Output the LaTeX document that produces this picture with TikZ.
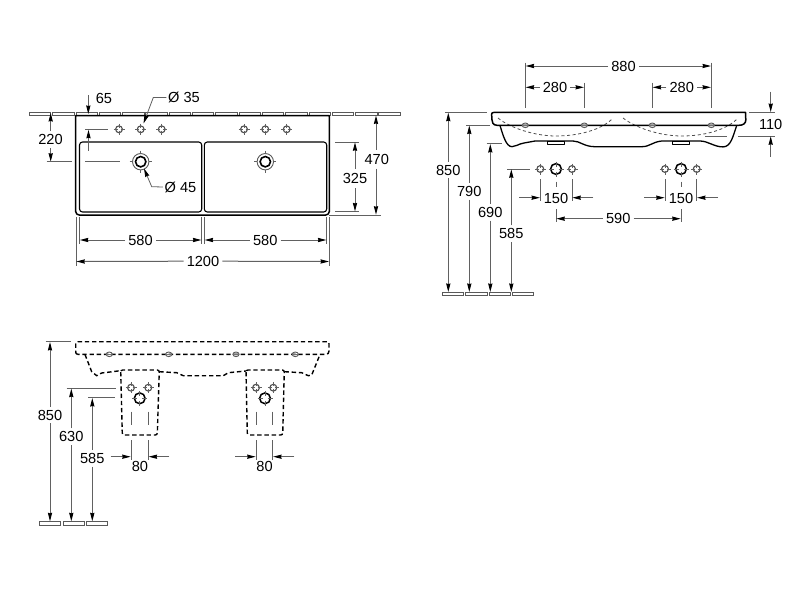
\documentclass[tikz,border=0pt]{standalone}
\usepackage{fontspec}
\setmainfont{Liberation Sans}
\usetikzlibrary{arrows.meta}
\tikzset{
  x=1pt,y=-1pt,
  lbl/.style={font=\fontsize{14.6}{16}\selectfont,text=black,inner sep=0pt},
  part/.style={draw=black,line width=1.5pt,line join=round},
  thinpart/.style={draw=black!70,line width=0.8pt},
  ext/.style={draw=black!62,line width=1pt},
  dimline/.style={draw=black!62,line width=1pt,-{Stealth[length=8.5pt,width=4.2pt,inset=0.6pt,color=black]}},
  hidden/.style={draw=black,line width=1.4pt,dash pattern=on 4.4pt off 2.8pt},
  hidden thin/.style={draw=black!70,line width=0.8pt,dash pattern=on 3pt off 2.6pt},
  plate/.style={draw=black!65,line width=0.9pt,fill=white},
  smallhole/.pic={
    \draw[thinpart,line width=1.1pt] (0,0) circle (3.4);
    \draw[ext,line width=0.6pt] (-5.5,0)--(-1.5,0) (1.5,0)--(5.5,0) (0,-5.5)--(0,-1.5) (0,1.5)--(0,5.5);
  },
  bighole/.pic={
    \draw[black!65,line width=0.9pt] (0,0) circle (8.2);
    \draw[black,line width=1.6pt] (0,0) circle (5.2);
    \draw[ext,line width=0.7pt] (-11,0)--(-8.2,0) (8.2,0)--(11,0) (0,-11)--(0,-8.2) (0,8.2)--(0,11);
  },
  sidehole/.pic={
    \draw[black,line width=1.5pt] (0,0) circle (5.4);
    \draw[ext,line width=0.6pt] (-7.5,0)--(-2.5,0) (2.5,0)--(7.5,0) (0,-7.5)--(0,-2.5) (0,2.5)--(0,7.5);
  },
  rimhole/.pic={
    \draw[black!65,line width=0.9pt] (0,0) ellipse (3.1 and 2.3);
    \draw[black!55,line width=0.5pt] (-3.1,0)--(3.1,0);
  },
}
\begin{document}
\begin{tikzpicture}
\useasboundingbox (0,0) rectangle (800,600);
% ===== plan view =====
\foreach \k in {0,...,15}
  \draw[plate,line width=0.7pt] ({29.3+23.3*\k},112.8) rectangle ++(21.4,2.4);
\draw[part,fill=white] (78.5,115.7) -- (329.3,115.7) -- (329.3,211.5) arc[start angle=0,end angle=90,radius=3.5] -- (79.2,215) arc[start angle=90,end angle=180,radius=3.5] -- (75.7,115.7) -- cycle;
\draw[part,line width=1.1pt,rounded corners=3pt] (79.5,142) rectangle (201.7,212);
\draw[part,line width=1.1pt,rounded corners=3pt] (204.3,142) rectangle (326.7,212);
\foreach \x in {119,140.7,161.7,244,265.3,286.7} \pic at (\x,129.3) {smallhole};
\pic at (140.7,161.7) {bighole};
\pic at (265.3,161.7) {bighole};
% 65
\draw[dimline] (88.3,95) -- (88.3,114);
\node[lbl] (t65) at (104,98) {65};
\draw[ext] (85,129.3) -- (108,129.3);
\draw[dimline] (88.5,150.5) -- (88.5,129.8);
% 220
\draw[dimline] (50.7,131) -- (50.7,113);
\draw[dimline] (50.7,148) -- (50.7,161.7);
\node[lbl] (t220) at (50.5,139.7) {220};
\draw[ext] (46.7,161.7) -- (71.7,161.7) (85,161.7) -- (120,161.7);
% diameters
\node[lbl] (d35) at (184,97.5) {Ø 35};
\node[lbl] (d45) at (180.5,187) {Ø 45};
\draw[dimline,line width=0.8pt] (d35.west) ++(-1.5,0) -- (153.3,97.5) -- (143.5,123.5);
\draw[dimline,line width=0.8pt] (d45.west) ++(-1.5,0) -- (151.7,186.7) -- (144,168.5);
% extension lines below plan
\draw[ext] (76,217) -- (76,265.5) (329.3,217) -- (329.3,265.5);
\draw[ext] (79.5,217) -- (79.5,244) (201.7,217) -- (201.7,244) (204.3,217) -- (204.3,244) (326.7,217) -- (326.7,244);
% 580 580 1200
\node[lbl] (a580) at (140.5,240) {580};
\node[lbl] (b580) at (265.3,240) {580};
\node[lbl] (t1200) at (203,261.2) {1200};
\draw[dimline] (a580.west) ++(-3,0) -- (79.8,240);
\draw[dimline] (a580.east) ++(3,0) -- (201.4,240);
\draw[dimline] (b580.west) ++(-3,0) -- (204.6,240);
\draw[dimline] (b580.east) ++(3,0) -- (326.4,240);
\draw[dimline] (t1200.west) ++(-3,0) -- (76.3,261.5);
\draw[dimline] (t1200.east) ++(3,0) -- (329,261.5);
% 325 470
\draw[ext] (335,142) -- (359.3,142) (335,211.7) -- (359.3,211.7);
\node[lbl] (t325) at (355,178.7) {325};
\draw[dimline] (355,169) -- (355,142.3);
\draw[dimline] (355,188) -- (355,211.4);
\draw[ext] (329.3,215) -- (380.5,215);
\node[lbl] (t470) at (376.7,159) {470};
\draw[dimline] (376,149.5) -- (376,115.5);
\draw[dimline] (376,168.5) -- (376,214.7);
% ===== front view =====
\draw[hidden thin] (498,118) .. controls (510,128) and (535,136) .. (556,136) .. controls (578,136) and (602,130) .. (613,118);
\draw[hidden thin] (623,118) .. controls (636,128) and (660,136) .. (682,136) .. controls (704,136) and (727,130) .. (738,118);
\draw[part] (494,112.4) -- (745.5,112.4) -- (745.8,120) .. controls (745.8,123.5) and (743,125.3) .. (739,125.3) -- (497,125.3) .. controls (493,125.3) and (491.8,122) .. (491.8,119) -- (491.7,114) .. controls (491.7,113) and (492.5,112.4) .. (494,112.4) -- cycle;
\draw[part,line width=1.3pt] (500,125.5) .. controls (503,135) and (506,146.7) .. (512,146.7) .. controls (516,146.7) and (518,144) .. (524,143) -- (535,141) -- (573,141) .. controls (580,141) and (584,146.7) .. (595,146.7) -- (641.7,146.7) .. controls (650,146.7) and (652,142) .. (661.7,141) -- (700,141) .. controls (708,141) and (714,146.9) .. (723,146.9) .. controls (731,146.9) and (733,136) .. (736.7,125.5);
\draw[part,line width=0.9pt] (547.5,141) rectangle (564,144);
\draw[part,line width=0.9pt] (672.5,141) rectangle (689,144);
\foreach \x in {525.3,584.3,652.3,711.3} \pic at (\x,125.3) {rimhole};
% 880, 280
\draw[ext] (525.3,62.7) -- (525.3,107.5) (711.3,62.7) -- (711.3,107.5) (584.3,82.7) -- (584.3,107.5) (652.3,82.7) -- (652.3,107.5);
\node[lbl] (t880) at (623.5,66) {880};
\draw[dimline] (t880.west) ++(-3,0) -- (525.6,66);
\draw[dimline] (t880.east) ++(3,0) -- (711,66);
\node[lbl] (l280) at (555,87.3) {280};
\node[lbl] (r280) at (681.7,87.3) {280};
\draw[dimline] (l280.west) ++(-3,0) -- (525.6,87.3);
\draw[dimline] (l280.east) ++(3,0) -- (584,87.3);
\draw[dimline] (r280.west) ++(-3,0) -- (652.6,87.3);
\draw[dimline] (r280.east) ++(3,0) -- (711,87.3);
% 110
\draw[ext] (749.3,112.3) -- (775,112.3) (738,136) -- (775,136) (705,136) -- (727,136);
\node[lbl] (t110) at (770.7,124.7) {110};
\draw[dimline] (770.7,91.7) -- (770.7,112);
\draw[dimline] (770.7,156.7) -- (770.7,136.3);
% heights
\draw[ext] (445,112.5) -- (487,112.5) (466,125.3) -- (490,125.3) (486.7,143.7) -- (501.7,143.7) (507.3,169) -- (530,169);
\node[lbl] (h850) at (448.3,170) {850};
\node[lbl] (h790) at (469.3,191.3) {790};
\node[lbl] (h690) at (490.3,212.3) {690};
\node[lbl] (h585) at (511.3,233.7) {585};
\draw[dimline] (h850.north -| 448.3,0) ++(0,-3) -- (448.3,112.7);
\draw[dimline] (h850.south -| 448.3,0) ++(0,3) -- (448.3,292);
\draw[dimline] (h790.north -| 469.3,0) ++(0,-3) -- (469.3,125.5);
\draw[dimline] (h790.south -| 469.3,0) ++(0,3) -- (469.3,292);
\draw[dimline] (h690.north -| 490.3,0) ++(0,-3) -- (490.3,144);
\draw[dimline] (h690.south -| 490.3,0) ++(0,3) -- (490.3,292);
\draw[dimline] (h585.north -| 511.3,0) ++(0,-3) -- (511.3,169.3);
\draw[dimline] (h585.south -| 511.3,0) ++(0,3) -- (511.3,292);
\draw[plate] (442.3,292.3) rectangle (463.7,295.7);
\draw[plate] (465.7,292.3) rectangle (487,295.7);
\draw[plate] (489,292.3) rectangle (510.7,295.7);
\draw[plate] (512.3,292.3) rectangle (533.7,295.7);
% tap holes
\foreach \x in {540.3,572,665,696.7} \pic at (\x,169) {smallhole};
\pic at (556,169) {sidehole};
\pic at (681,169) {sidehole};
\draw[ext] (540.3,179.3) -- (540.3,201) (572,179.3) -- (572,201) (665,179.3) -- (665,201) (696.7,179.3) -- (696.7,201);
\draw[ext] (556,181.7) -- (556,187) (681,181.7) -- (681,187);
\node[lbl] (a150) at (556,198) {150};
\node[lbl] (b150) at (681,198) {150};
\draw[dimline] (519.3,197.7) -- (540,197.7);
\draw[dimline] (593.3,197.7) -- (572.3,197.7);
\draw[dimline] (644,197.7) -- (664.7,197.7);
\draw[dimline] (718,197.7) -- (697,197.7);
\draw[ext] (556,209.3) -- (556,222.3) (681,209.3) -- (681,222.3);
\node[lbl] (t590) at (618.3,218.7) {590};
\draw[dimline] (t590.west) ++(-3,0) -- (556.3,218.7);
\draw[dimline] (t590.east) ++(3,0) -- (680.7,218.7);
% ===== side (hidden) view =====
\draw[hidden] (77.5,354.3) .. controls (76,354.3) and (75.7,353) .. (75.7,351) -- (75.7,344) .. controls (75.7,342.5) and (76.5,341.7) .. (78,341.7) -- (327,341.7) .. controls (328.5,341.7) and (329,342.5) .. (329,344) -- (329,351) .. controls (329,353) and (328,354.3) .. (326,354.3) -- cycle;
\draw[hidden] (85,354.5) -- (91.7,371.7) -- (96.7,375.7) -- (101.7,373) -- (120.5,370.7);
\draw[hidden] (159.3,371.7) -- (176.7,372.7) -- (183.3,375.7) -- (223.3,375.7) -- (228.3,372.7) -- (245.8,371);
\draw[hidden] (284.5,371.7) -- (301.7,372.7) -- (308.3,375.7) -- (311.7,375) -- (320,354.5);
\draw[hidden,rounded corners=2pt] (120.7,370) -- (122.3,435) -- (157.3,435) -- (159.3,370) -- cycle;
\draw[hidden,rounded corners=2pt] (246,370) -- (247.3,435) -- (282.7,435) -- (284.3,370) -- cycle;
\foreach \x in {109.3,168.7,236,295.3} \pic[fill=white] at (\x,354.3) {rimhole};
\foreach \x/\y in {131/387.7,148.3/387.7,256/387.7,273.3/387.7} \pic at (\x,\y) {smallhole};
\pic at (139.7,398.3) {sidehole};
\pic at (265,398.3) {sidehole};
\draw[ext] (131,411.7) -- (131,425) (148.3,411.7) -- (148.3,425) (256,411.7) -- (256,425) (272.8,411.7) -- (272.8,425);
\draw[ext] (131,440) -- (131,460) (148.3,440) -- (148.3,460) (256,440) -- (256,460) (272.8,440) -- (272.8,460);
\draw[dimline] (110.7,456.7) -- (130.7,456.7);
\draw[dimline] (169.3,456.7) -- (148.6,456.7);
\draw[dimline] (235,456.7) -- (255.7,456.7);
\draw[dimline] (294.3,456.7) -- (273.1,456.7);
\node[lbl] (ca80) at (140,466) {80};
\node[lbl] (cb80) at (264.5,466) {80};
\draw[ext] (45.7,341.7) -- (70.7,341.7) (66.7,388.3) -- (116,388.3) (88.3,397.7) -- (115,397.7);
\node[lbl] (k850) at (50,415) {850};
\node[lbl] (k630) at (71.3,436.7) {630};
\node[lbl] (k585) at (92.3,458.3) {585};
\draw[dimline] (k850.north -| 50,0) ++(0,-3) -- (50,342);
\draw[dimline] (k850.south -| 50,0) ++(0,3) -- (50,521.3);
\draw[dimline] (k630.north -| 71.3,0) ++(0,-3) -- (71.3,388.6);
\draw[dimline] (k630.south -| 71.3,0) ++(0,3) -- (71.3,521.3);
\draw[dimline] (k585.north -| 92.3,0) ++(0,-3) -- (92.3,398);
\draw[dimline] (k585.south -| 92.3,0) ++(0,3) -- (92.3,521.3);
\draw[plate] (39.3,521.7) rectangle (60.3,525);
\draw[plate] (63,521.7) rectangle (84,525);
\draw[plate] (86.7,521.7) rectangle (107.7,525);
\end{tikzpicture}
\end{document}
